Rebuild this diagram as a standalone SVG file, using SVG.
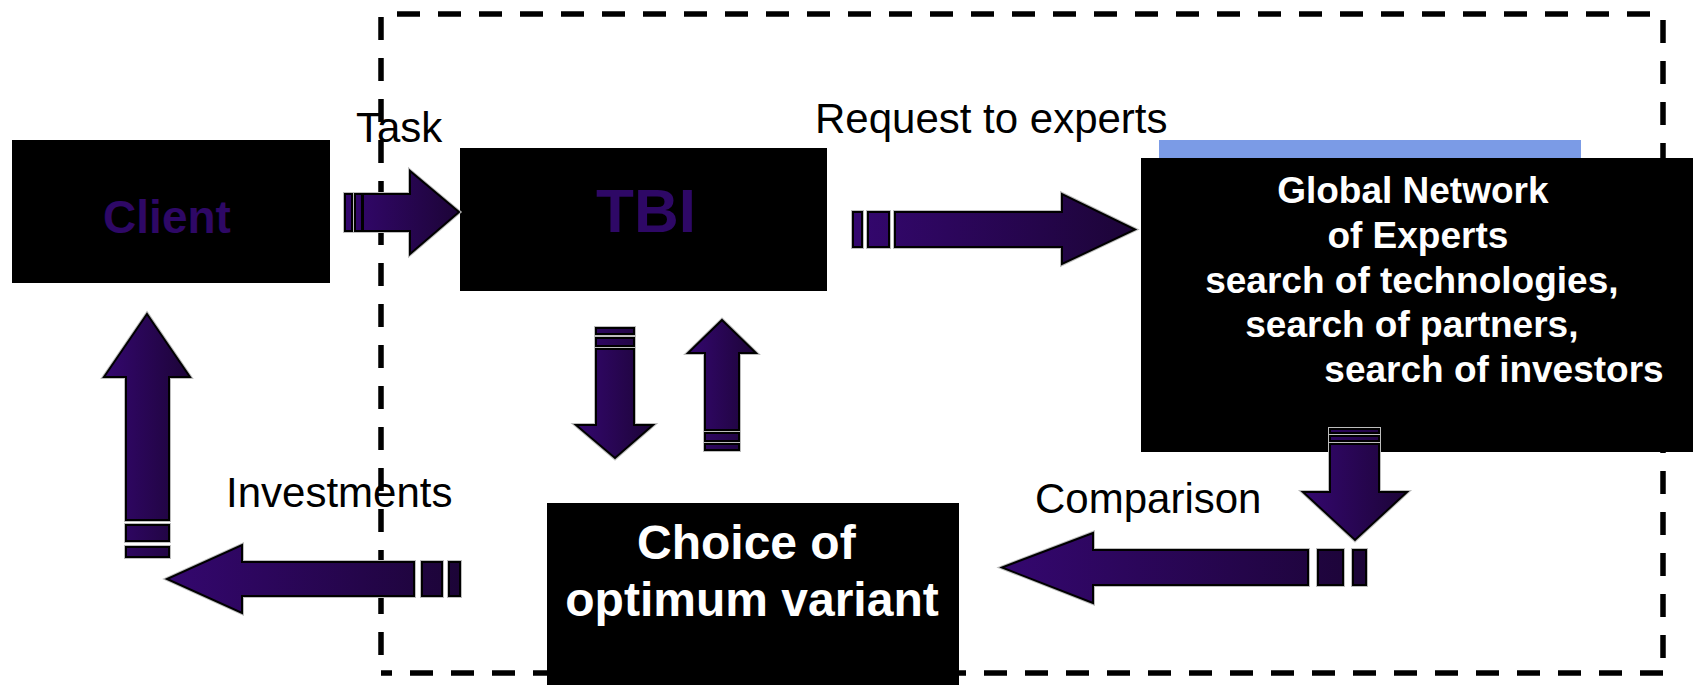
<svg xmlns="http://www.w3.org/2000/svg" xmlns:xlink="http://www.w3.org/1999/xlink" width="1693" height="685" viewBox="0 0 1693 685">
<defs>
<style>
.lbl{font-family:"Liberation Sans",Arial,sans-serif;font-size:42px;fill:#000}
.wt{font-family:"Liberation Sans",Arial,sans-serif;font-weight:bold;fill:#fff;text-anchor:middle}
.box{fill:#000}
.halo{fill:none;stroke:#bdbdbd;stroke-width:4;stroke-linejoin:miter}
.arw{fill:url(#pg);stroke:#000;stroke-width:2;stroke-linejoin:miter}
.frame{fill:none;stroke:#000;stroke-width:5.5;stroke-dasharray:23 18}
</style>
<linearGradient id="pg" x1="0" y1="0" x2="1" y2="0">
<stop offset="0" stop-color="#34076f"/>
<stop offset="1" stop-color="#1c0437"/>
</linearGradient>
<path id="a1" d="M363,194 H410 V171 L459,212 L410,254 V231 H363 Z M345,194 h7 v37 h-7 Z M355,194 h7 v37 h-7 Z"/>
<path id="a2" d="M895,212 H1062 V194 L1135,229.5 L1062,264 V247 H895 Z M853,212 h9 v35 h-9 Z M868,212 h21 v35 h-21 Z"/>
<path id="a3" d="M596,349 V425 H576 L615,458 L653,425 H634 V349 Z M596,328 h38 v6 h-38 Z M596,338 h38 v8 h-38 Z"/>
<path id="a4" d="M722,320 L756,353 H739 V430 H705 V353 H688 Z M705,433 h34 v8 h-34 Z M705,444 h34 v6 h-34 Z"/>
<path id="a5" d="M1330,444 V492 H1303 L1355,540 L1407,492 H1379 V444 Z M1330,429 h49 v4 h-49 Z M1330,436 h49 v5 h-49 Z"/>
<path id="a6" d="M1308,550 H1093 V533 L1002,567.5 L1093,603 V585 H1308 Z M1318,550 h25 v35 h-25 Z M1353,550 h13 v35 h-13 Z"/>
<path id="a7" d="M414,562 H242 V545 L167,579 L242,613 V596 H414 Z M422,562 h20 v34 h-20 Z M449,562 h11 v34 h-11 Z"/>
<path id="a8" d="M147,314 L190,377 H169 V520 H126 V377 H104 Z M126,525 h43 v16 h-43 Z M126,547 h43 v10 h-43 Z"/>
</defs>
<rect width="1693" height="685" fill="#fff"/>
<g id="frame">
<path class="frame" d="M397,14 H1663 M381,17 V673 M1663,20 V673 M1663,673 H381"/>
</g>
<g id="client">
<rect class="box" x="12" y="140" width="318" height="143"/>
<text x="167" y="233" font-family="Liberation Sans, Arial, sans-serif" font-weight="bold" font-size="46" fill="#2e0866" text-anchor="middle">Client</text>
</g>
<g id="tbi">
<rect class="box" x="460" y="148" width="367" height="143"/>
<text x="646" y="232" font-family="Liberation Sans, Arial, sans-serif" font-weight="bold" font-size="62" fill="#2e0866" text-anchor="middle">TBI</text>
</g>
<g id="experts">
<rect x="1159" y="140" width="422" height="18" fill="#7b9be6"/>
<rect class="box" x="1141" y="158" width="552" height="294"/>
<text class="wt" font-size="37">
<tspan x="1418" y="203">Global Network</tspan>
<tspan x="1423" y="248">of Experts</tspan>
<tspan x="1417" y="293">search of technologies,</tspan>
<tspan x="1417" y="337">search of partners,</tspan>
<tspan x="1494" y="382">search of investors</tspan>
</text>
</g>
<g id="choice">
<rect class="box" x="547" y="503" width="412" height="182"/>
<text class="wt" font-size="48">
<tspan x="753" y="559">Choice of</tspan>
<tspan x="752" y="616">optimum variant</tspan>
</text>
</g>
<g id="connectors">
<use xlink:href="#a1" class="halo"/><use xlink:href="#a1" class="arw"/>
<use xlink:href="#a2" class="halo"/><use xlink:href="#a2" class="arw"/>
<use xlink:href="#a3" class="halo"/><use xlink:href="#a3" class="arw"/>
<use xlink:href="#a4" class="halo"/><use xlink:href="#a4" class="arw"/>
<use xlink:href="#a5" class="halo"/><use xlink:href="#a5" class="arw"/>
<use xlink:href="#a6" class="halo"/><use xlink:href="#a6" class="arw"/>
<use xlink:href="#a7" class="halo"/><use xlink:href="#a7" class="arw"/>
<use xlink:href="#a8" class="halo"/><use xlink:href="#a8" class="arw"/>
<text class="lbl" x="356" y="142">Task</text>
<text class="lbl" x="815" y="133">Request to experts</text>
<text class="lbl" x="226" y="507">Investments</text>
<text class="lbl" x="1035" y="513">Comparison</text>
</g>
</svg>
